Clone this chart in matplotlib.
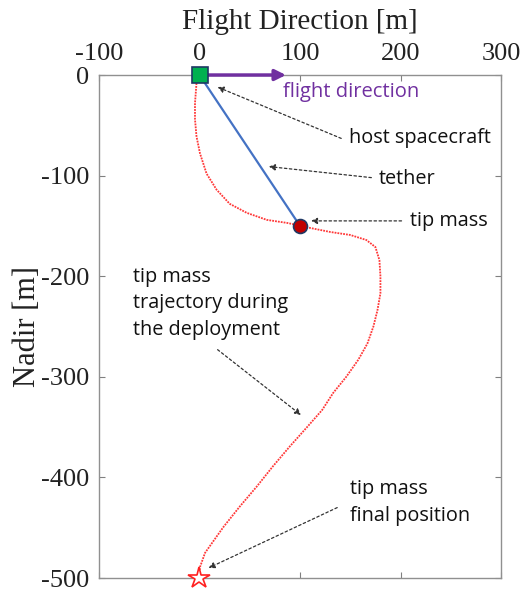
import matplotlib.pyplot as plt

plt.rcParams['axes.unicode_minus'] = False

# tip mass trajectory during the deployment
traj_x = [0, -3, -4.5, -4.5, -3, 0.5, 7, 17, 30, 47, 67, 87, 97, 100, 110, 130, 150, 166, 175, 179,
          180, 180, 177, 173, 167, 158, 146, 133, 122, 107, 90, 73, 57, 40, 24, 14, 5.5, 0.5, -1]
traj_y = [0, -8, -28, -44, -61, -78, -98, -114, -128, -137, -144, -147, -149, -150, -152, -156, -159, -164, -171, -184,
          -200, -217, -234, -250, -267, -283, -300, -316, -333, -350, -369, -389, -409, -429, -449, -463, -475, -489, -500]

# tether from host spacecraft to tip mass
tether_x = [0, 100]
tether_y = [0, -150]

host_pos = (0, 0)
tip_pos = (100, -150)
final_pos = (-1, -500)

xticks = [-100, 0, 100, 200, 300]
yticks = [0, -100, -200, -300, -400, -500]

fig = plt.figure(figsize=(5.23, 5.94), dpi=100)
ax = fig.add_axes([0.1893, 0.0269, 0.7687, 0.8468])

ax.plot(traj_x, traj_y, color='#FF3838', linestyle=(0, (1, 0.6)), linewidth=1.3, zorder=2)
ax.plot(tether_x, tether_y, color='#4472C4', linewidth=1.6, zorder=3)

# flight direction arrow
ax.annotate('', xy=(86, 0), xytext=(0, 0),
            arrowprops=dict(arrowstyle='-|>', color='#7030A0', lw=2.5,
                            mutation_scale=16, shrinkA=0, shrinkB=0),
            annotation_clip=False, zorder=4)
ax.text(83, -17, 'flight direction', color='#7030A0', fontsize=14.5,
        family='Open Sans', va='center', ha='left')

ax.plot(*host_pos, marker='s', markersize=11.5, markerfacecolor='#00B050',
        markeredgecolor='#1F3864', markeredgewidth=1.2, clip_on=False, zorder=5)
ax.plot(*tip_pos, marker='o', markersize=10, markerfacecolor='#C00000',
        markeredgecolor='#1F3864', markeredgewidth=1.2, clip_on=False, zorder=5)
ax.plot(*final_pos, marker='*', markersize=16, markerfacecolor='white',
        markeredgecolor='#FF2020', markeredgewidth=1.2, clip_on=False, zorder=5)

arrow_kw = dict(arrowstyle='-|>', linestyle=(0, (2, 2)), color='#333333',
                lw=0.9, mutation_scale=9, shrinkA=0, shrinkB=0)
txt_kw = dict(fontsize=14.3, family='Open Sans', color='#111111')

ax.annotate('', xy=(18, -12), xytext=(141, -63), arrowprops=arrow_kw)
ax.text(149, -63, 'host spacecraft', va='center', **txt_kw)

ax.annotate('', xy=(69, -91), xytext=(171, -102), arrowprops=arrow_kw)
ax.text(178, -103, 'tether', va='center', **txt_kw)

ax.annotate('', xy=(111, -145), xytext=(201, -145), arrowprops=arrow_kw)
ax.text(209, -145, 'tip mass', va='center', **txt_kw)

ax.text(-66, -227, 'tip mass\ntrajectory during\nthe deployment', va='center',
        linespacing=1.45, **txt_kw)
ax.annotate('', xy=(101, -338), xytext=(18, -273), arrowprops=arrow_kw)

ax.text(150, -425, 'tip mass\nfinal position', va='center', linespacing=1.45, **txt_kw)
ax.annotate('', xy=(9, -490), xytext=(137, -430), arrowprops=arrow_kw)

ax.set_xlim(-100, 300)
ax.set_ylim(-500, 0)
ax.set_xticks(xticks)
ax.set_yticks(yticks)
ax.xaxis.tick_top()
ax.xaxis.set_label_position('top')
ax.tick_params(direction='in', length=4, color='#808080', top=True, bottom=True,
               left=True, right=True, labelsize=19, pad=7)
for lab in ax.get_xticklabels() + ax.get_yticklabels():
    lab.set_family('Liberation Serif')
    lab.set_color('#222222')
for sp in ax.spines.values():
    sp.set_color('#909090')
    sp.set_linewidth(1.0)

ax.set_xlabel('Flight Direction [m]', family='Liberation Serif', fontsize=21,
              color='#222222', labelpad=10)
ax.set_ylabel('Nadir [m]', family='Liberation Serif', fontsize=22,
              color='#222222', labelpad=-1)

fig.savefig('out.png', dpi=100)
